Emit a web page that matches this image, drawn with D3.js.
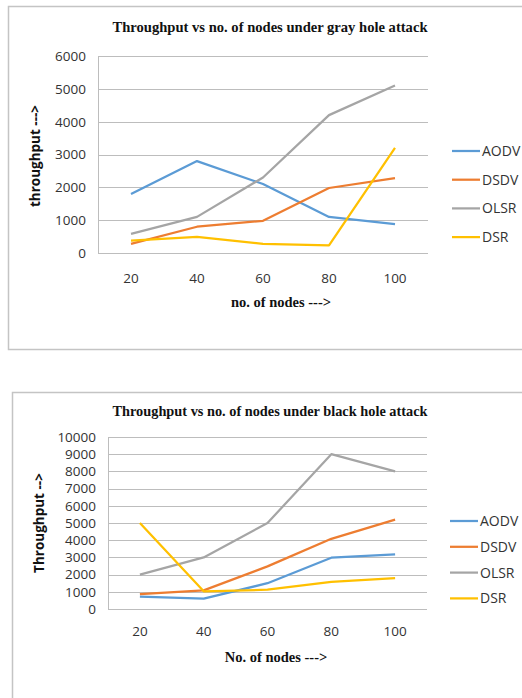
<!DOCTYPE html>
<html>
<head>
<meta charset="utf-8">
<script src="https://cdn.jsdelivr.net/npm/d3@7"></script>
<style>
  body { margin: 0; background: #fff; }
  svg { display: block; }
</style>
</head>
<body>
<div id="chartContainer"></div>
<script>
const nodes = [20, 40, 60, 80, 100];
const protocols = ["AODV", "DSDV", "OLSR", "DSR"];
const colors = ["#5b9bd5", "#ed7d31", "#a5a5a5", "#ffc000"];

// gray hole attack
const grayAODV = [1800, 2800, 2100, 1100, 880];
const grayDSDV = [280, 800, 980, 1980, 2280];
const grayOLSR = [580, 1100, 2300, 4200, 5100];
const grayDSR  = [380, 490, 280, 230, 3200];
const grayTicks = [0, 1000, 2000, 3000, 4000, 5000, 6000];

// black hole attack
const blackAODV = [720, 600, 1500, 2980, 3180];
const blackDSDV = [870, 1080, 2480, 4080, 5200];
const blackOLSR = [2000, 3000, 5000, 9000, 8000];
const blackDSR  = [5000, 1030, 1120, 1580, 1790];
const blackTicks = [0, 1000, 2000, 3000, 4000, 5000, 6000, 7000, 8000, 9000, 10000];

const width = 522;
const height = 698;

const svg = d3.select("#chartContainer").append("svg")
  .attr("width", width)
  .attr("height", height);

function drawChart(opts) {
  const g = svg.append("g");

  // outer frame
  g.append("rect")
    .attr("x", opts.frame[0])
    .attr("y", opts.frame[1])
    .attr("width", opts.frame[2])
    .attr("height", opts.frame[3])
    .attr("fill", "#fff")
    .attr("stroke", "#c4c4c4")
    .attr("stroke-width", 1.5);

  const x = d3.scalePoint()
    .domain(nodes)
    .range([opts.left, opts.right])
    .padding(0.5);

  const y = d3.scaleLinear()
    .domain([0, d3.max(opts.ticks)])
    .range([opts.bottom, opts.top]);

  // gridlines
  g.append("g")
    .attr("stroke", "#bdbdbd")
    .attr("stroke-width", 1)
    .selectAll()
    .data(opts.ticks)
    .join("line")
    .attr("x1", opts.left)
    .attr("x2", opts.right)
    .attr("y1", d => Math.round(y(d)) + 0.5)
    .attr("y2", d => Math.round(y(d)) + 0.5);

  // vertical axis line
  g.append("line")
    .attr("x1", opts.left + 0.5)
    .attr("x2", opts.left + 0.5)
    .attr("y1", Math.round(y(d3.max(opts.ticks))) + 0.5)
    .attr("y2", Math.round(y(0)) + 0.5)
    .attr("stroke", "#bdbdbd");

  // y tick labels
  g.append("g")
    .attr("font-family", "Open Sans, sans-serif")
    .attr("font-size", 13.5)
    .attr("fill", "#333")
    .attr("text-anchor", "end")
    .selectAll()
    .data(opts.ticks)
    .join("text")
    .attr("x", opts.left - 12)
    .attr("y", d => y(d))
    .attr("dy", "0.36em")
    .text(d => d);

  // x tick labels
  g.append("g")
    .attr("font-family", "Open Sans, sans-serif")
    .attr("font-size", 13.5)
    .attr("fill", "#333")
    .attr("text-anchor", "middle")
    .selectAll()
    .data(nodes)
    .join("text")
    .attr("x", d => x(d))
    .attr("y", opts.xLabelY)
    .text(d => d);

  // lines
  const line = d3.line()
    .x((d, i) => x(nodes[i]))
    .y(d => y(d));

  g.append("g")
    .selectAll()
    .data(opts.series)
    .join("path")
    .attr("fill", "none")
    .attr("stroke", (d, i) => colors[i])
    .attr("stroke-width", 2.25)
    .attr("stroke-linejoin", "round")
    .attr("d", d => line(d));

  // title
  g.append("text")
    .attr("x", opts.titleX)
    .attr("y", opts.titleY)
    .attr("text-anchor", "middle")
    .attr("font-family", "Liberation Serif, serif")
    .attr("font-weight", "bold")
    .attr("font-size", 14.5)
    .attr("fill", "#111")
    .attr("textLength", opts.titleLen)
    .attr("lengthAdjust", "spacingAndGlyphs")
    .text(opts.title);

  // x axis title
  g.append("text")
    .attr("x", opts.xTitleX)
    .attr("y", opts.xTitleY)
    .attr("text-anchor", "middle")
    .attr("font-family", "Liberation Serif, serif")
    .attr("font-weight", "bold")
    .attr("font-size", 14.5)
    .attr("fill", "#111")
    .text(opts.xTitle);

  // y axis title
  g.append("text")
    .attr("transform", `translate(${opts.yTitleX},${opts.yTitleY}) rotate(-90)`)
    .attr("text-anchor", "middle")
    .attr("font-family", "Open Sans, sans-serif")
    .attr("font-weight", "bold")
    .attr("font-size", 13.5)
    .attr("fill", "#111")
    .text(opts.yTitle);

  // legend
  const legend = g.append("g")
    .selectAll()
    .data(protocols)
    .join("g")
    .attr("transform", (d, i) => `translate(${opts.legendX},${opts.legendY + i * opts.legendStep})`);

  legend.append("line")
    .attr("x1", 0)
    .attr("x2", 28)
    .attr("stroke", (d, i) => colors[i])
    .attr("stroke-width", 2.25);

  legend.append("text")
    .attr("x", 30)
    .attr("dy", "0.36em")
    .attr("font-family", "Open Sans, sans-serif")
    .attr("font-size", 14)
    .attr("fill", "#333")
    .text(d => d);
}

drawChart({
  frame: [8.5, 6.5, 520, 343],
  left: 98, right: 428, top: 56, bottom: 253,
  ticks: grayTicks,
  series: [grayAODV, grayDSDV, grayOLSR, grayDSR],
  xLabelY: 283,
  title: "Throughput vs no. of nodes under gray hole attack",
  titleX: 270, titleY: 32, titleLen: 315,
  xTitle: "no. of nodes --->", xTitleX: 281, xTitleY: 307,
  yTitle: "throughput --->", yTitleX: 40, yTitleY: 156,
  legendX: 452, legendY: 151, legendStep: 28.7
});

drawChart({
  frame: [12.5, 392.5, 520, 320],
  left: 108, right: 427, top: 437, bottom: 609,
  ticks: blackTicks,
  series: [blackAODV, blackDSDV, blackOLSR, blackDSR],
  xLabelY: 636,
  title: "Throughput vs no. of nodes under black hole attack",
  titleX: 270, titleY: 416, titleLen: 315,
  xTitle: "No. of nodes --->", xTitleX: 276, xTitleY: 662,
  yTitle: "Throughput -->", yTitleX: 44, yTitleY: 523,
  legendX: 450, legendY: 521, legendStep: 25.8
});
</script>
</body>
</html>
